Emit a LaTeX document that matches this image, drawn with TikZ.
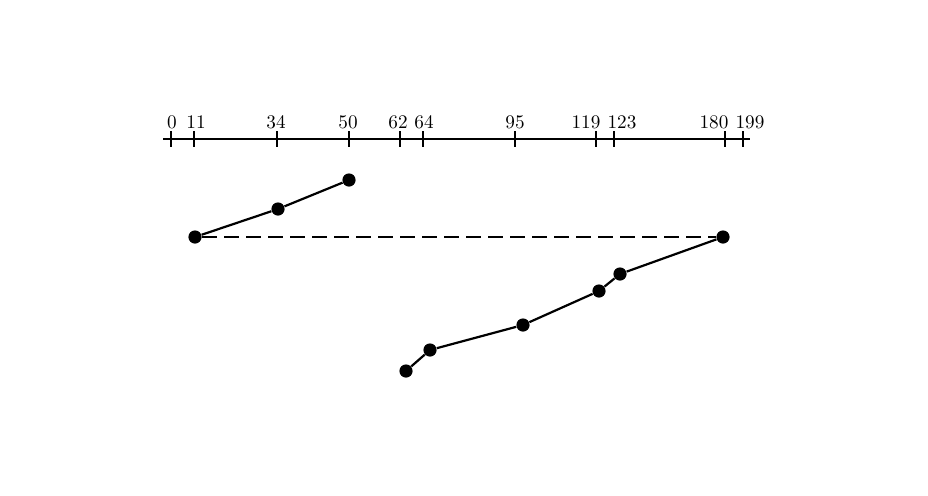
\documentclass[tikz,border=0pt]{standalone}
\usetikzlibrary{positioning}
\tikzset{
  reqdot/.style={circle, fill, inner sep=0pt, minimum size=6.6pt},
  seekline/.style={line width=1.1pt},
  tickmark/.style={line width=1.4pt},
  cyllabel/.style={font=\fontsize{9.6}{11}\selectfont, anchor=base, inner sep=0pt},
}
\begin{document}
\begin{tikzpicture}[x=0.5pt, y=-0.5pt]
\useasboundingbox (0,0) rectangle (928,495);
% cylinder axis
\coordinate (axl) at (163,139);
\coordinate (axr) at (750,139);
\draw[line width=1.3pt] (axl) -- (axr);
\foreach \px in {171, 194, 277, 349, 400, 423, 515, 596, 614, 725, 743}
  \draw[tickmark] (\px,131) -- (\px,147);
\foreach \cyl/\lx in {0/172, 11/196, 34/276, 50/348, 62/398, 64/424, 95/515, 119/586, 123/622, 180/714, 199/750}
  \node[cyllabel] (c\cyl) at (\lx,128) {\cyl};
% requests, in service order
\node[reqdot] (r50)  at (349,180) {};
\node[reqdot] (r34)  at (278,209) {};
\node[reqdot] (r11)  at (195,237) {};
\node[reqdot] (r180) at (723,237) {};
\node[reqdot] (r123) at (620,274) {};
\node[reqdot] (r119) at (599,291) {};
\node[reqdot] (r95)  at (523,325) {};
\node[reqdot] (r64)  at (430,350) {};
\node[reqdot] (r62)  at (406,371) {};
\draw[seekline] (r50) -- (r34) -- (r11);
\draw[line width=0.9pt, dash pattern=on 7.5pt off 3.5pt] (r11) -- (r180);
\draw[seekline] (r180) -- (r123) -- (r119) -- (r95) -- (r64) -- (r62);
\end{tikzpicture}
\end{document}
